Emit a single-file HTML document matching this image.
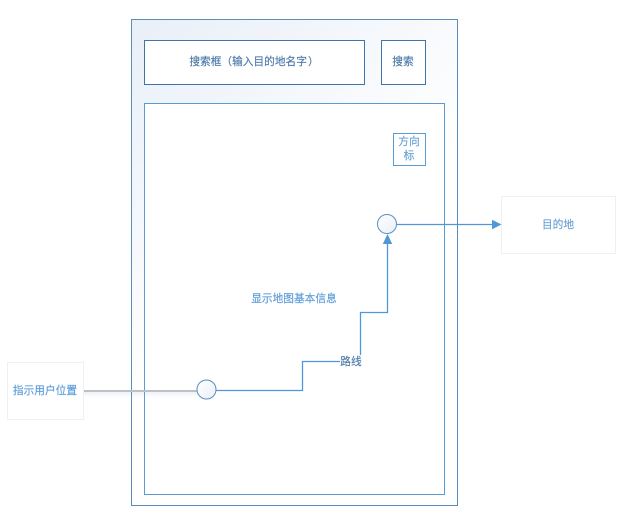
<!DOCTYPE html>
<html><head><meta charset="utf-8">
<style>
html,body{margin:0;padding:0;background:#fff;width:627px;height:513px;overflow:hidden}
svg{display:block}
text{font-family:"Liberation Sans","Noto Sans CJK SC",sans-serif;font-size:10.7px;text-anchor:middle;stroke-width:.15}
</style></head><body>
<svg width="627" height="513" viewBox="0 0 627 513" xmlns="http://www.w3.org/2000/svg">
<defs>
<linearGradient id="g" x1="0" y1="0" x2="1" y2="1" gradientUnits="userSpaceOnUse" gradientTransform="translate(131 19) scale(240 200)">
<stop offset="0" stop-color="#e9eff8"/><stop offset="1" stop-color="#ffffff"/>
</linearGradient>
<linearGradient id="c" x1="0" y1="0" x2="1" y2="1"><stop offset="0" stop-color="#ffffff"/><stop offset="1" stop-color="#eaf0f8"/></linearGradient>
<linearGradient id="s" x1="0" y1="0" x2="0" y2="1"><stop offset="0" stop-color="#edf2fa"/><stop offset="1" stop-color="#ffffff"/></linearGradient>
</defs>
<rect x="131.5" y="19.5" width="326" height="486" fill="url(#g)" stroke="#5a8cbc"/>
<rect x="144.5" y="40.5" width="220" height="44" fill="#fff" stroke="#3f74a8"/>
<rect x="381.5" y="40.5" width="44" height="44" fill="#fff" stroke="#3f74a8"/>
<rect x="144.5" y="103.5" width="300" height="391" fill="#fff" stroke="#5a9bd5"/>
<rect x="393.5" y="133.5" width="32" height="32" fill="#fff" stroke="#5a9bd5"/>
<rect x="7.5" y="362.5" width="76" height="57" fill="#fff" stroke="#edf0f6"/>
<rect x="501.5" y="196.5" width="114" height="57" fill="#fff" stroke="#edf0f6"/>
<rect x="84" y="392" width="114" height="6" fill="url(#s)"/>
<line x1="131.5" y1="392" x2="131.5" y2="398" stroke="#5a8cbc"/>
<line x1="144.5" y1="392" x2="144.5" y2="398" stroke="#5a9bd5"/>
<line x1="84" y1="391" x2="198" y2="391" stroke="#c0c0c0" stroke-width="2"/>
<polyline points="216,390.5 302.5,390.5 302.5,361.5 360.5,361.5 360.5,312.5 387.5,312.5 387.5,244" fill="none" stroke="#4f97da" stroke-width="1.3"/>
<polygon points="387.5,234 382.8,244 392.2,244" fill="#4f97da"/>
<line x1="397" y1="224.5" x2="493" y2="224.5" stroke="#4f97da" stroke-width="1.3"/>
<polygon points="501.5,224.5 492,219.8 492,229.2" fill="#4f97da"/>
<circle cx="206.5" cy="389.5" r="9.5" fill="url(#c)" stroke="#5a8fc0"/>
<circle cx="387" cy="224" r="9.5" fill="url(#c)" stroke="#5a8fc0"/>
<rect x="340" y="355" width="22" height="13" fill="#fff"/>
<text x="254" y="65" fill="#4d7aa8" stroke="#4d7aa8">搜索框（输入目的地名字<tspan dx="1">）</tspan></text>
<text x="403" y="65" fill="#4d7aa8" stroke="#4d7aa8">搜索</text>
<text x="409" y="145" fill="#6ba2d6" stroke="#6ba2d6">方向</text>
<text x="409" y="159" fill="#6ba2d6" stroke="#6ba2d6">标</text>
<text x="294" y="302" fill="#5b9bd8" stroke="#5b9bd8">显示地图基本信息</text>
<text x="351" y="365" fill="#4d7aa8" stroke="#4d7aa8">路线</text>
<text x="45" y="394" fill="#5b9bd8" stroke="#5b9bd8">指示用户位置</text>
<text x="558" y="228" fill="#6ba2d6" stroke="#6ba2d6">目的地</text>
</svg>
</body></html>
